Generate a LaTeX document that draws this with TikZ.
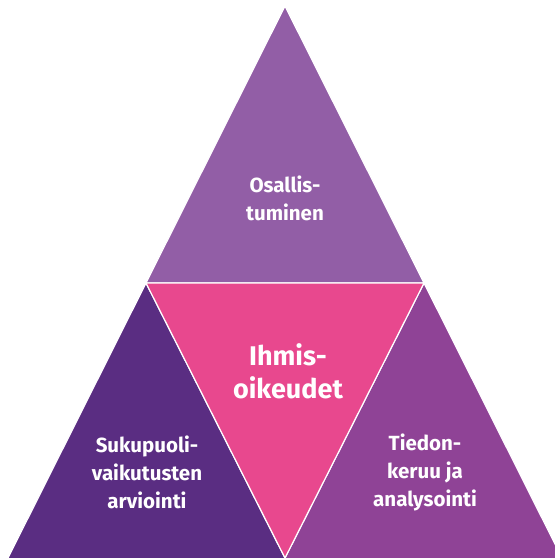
\documentclass[tikz,border=0pt]{standalone}
\usepackage{fontspec}
\setmainfont{Fira Sans}
\usepackage{tikz}
\definecolor{mtop}{RGB}{146, 94, 166}
\definecolor{mpink}{RGB}{232, 72, 142}
\definecolor{mleft}{RGB}{90, 45, 130}
\definecolor{mright}{RGB}{143, 67, 150}

\begin{document}
\begin{tikzpicture}[x=1pt, y=-1pt,
    part/.style={draw=white, line width=1.2pt, line join=miter},
    lbl/.style={text=white, align=center, font=\bfseries\fontsize{20.5}{28}\selectfont}]
    \useasboundingbox (0, 0) rectangle (555, 558);
    \clip (0, 0) rectangle (555, 558);

    \coordinate (apex) at (285, 6);
    \coordinate (lmid) at (146, 283);
    \coordinate (rmid) at (424, 283);
    \coordinate (bl) at (7, 560);
    \coordinate (bm) at (285, 560);
    \coordinate (br) at (563, 560);
    \coordinate (tip) at (285, 558);

    \fill [mtop, part] (apex) -- (rmid) -- (lmid) -- cycle;
    \fill [mleft, part] (lmid) -- (tip) -- (bm) -- (bl) -- cycle;
    \fill [mright, part] (rmid) -- (br) -- (bm) -- (tip) -- cycle;
    \filldraw [mpink, part] (lmid) -- (rmid) -- (tip) -- cycle;

    \node [lbl] (osallis) at (285, 198) {Osallis-\\tuminen};
    \node [lbl, font=\bfseries\fontsize{27}{33}\selectfont] (ihmis) at (288, 371) {Ihmis-\\oikeudet};
    \node [lbl] (sukupuoli) at (147, 472) {Sukupuoli-\\vaikutusten\\arviointi};
    \node [lbl] (tiedon) at (425, 472) {Tiedon-\\keruu ja\\analysointi};
  \end{tikzpicture}
\end{document}
